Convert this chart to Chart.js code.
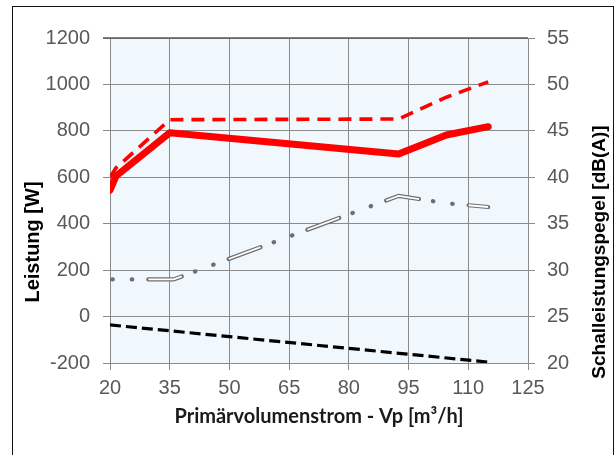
<!DOCTYPE html>
<html><head><meta charset="utf-8">
<script src="https://cdn.jsdelivr.net/npm/chart.js@4.4.1/dist/chart.umd.min.js"></script>
<style>
html,body{margin:0;padding:0;background:#fff;}
#wrap{position:relative;width:615px;height:455px;overflow:hidden;}
#frame{position:absolute;left:12px;top:6px;width:602px;height:470px;border:1.5px solid #111;box-sizing:border-box;pointer-events:none;}
canvas{position:absolute;left:0;top:0;}
</style></head>
<body><div id="wrap"><canvas id="c" width="615" height="455"></canvas><div id="frame"></div></div>
<script>
const xTicks = [20, 35, 50, 65, 80, 95, 110, 125];
const leftTicks = [-200, 0, 200, 400, 600, 800, 1000, 1200];
const rightTicks = [20, 25, 30, 35, 40, 45, 50, 55];

const powerSolidX = [20, 21.5, 35, 92.5, 104.5, 115];
const powerSolid = [545, 605, 792, 700, 782, 818];
const powerDashedX = [20, 21.5, 35, 92.5, 104.5, 115];
const powerDashed = [600, 640, 848, 851, 945, 1011];
const soundX = [20, 36, 92.5, 104.5, 115];
const sound = [29, 29, 38, 37.2, 36.8];
const sound2X = [20, 115];
const sound2 = [24.1, 20.1];

const xTitle = 'Primärvolumenstrom - Vp [m³/h]';
const yTitle = 'Leistung [W]';
const y2Title = 'Schalleistungspegel [dB(A)]';

const pts = (xs, ys) => xs.map((x, i) => ({x: x, y: ys[i]}));
const GRID = '#8a8a8a';
const TICKC = '#595959';
const tickFont = {family: 'Liberation Sans, Arial, sans-serif', size: 20};
const plain = v => String(v);

const bgPlugin = {
  id: 'bg',
  beforeDraw(chart) {
    const a = chart.chartArea, ctx = chart.ctx;
    ctx.save();
    ctx.fillStyle = '#f0f7fd';
    ctx.fillRect(a.left, a.top, a.right - a.left, a.bottom - a.top);
    ctx.restore();
  },
  beforeDatasetsDraw(chart) {
    const a = chart.chartArea, ctx = chart.ctx;
    ctx.save();
    ctx.strokeStyle = '#5a5a5a';
    ctx.lineWidth = 1.5;
    ctx.beginPath();
    ctx.moveTo(a.left - 7, a.top);
    ctx.lineTo(a.right, a.top);
    ctx.stroke();
    ctx.restore();
  },
  afterDraw(chart) {
    const ctx = chart.ctx;
    ctx.save();
    ctx.fillStyle = '#000';
    ctx.textAlign = 'center';
    ctx.textBaseline = 'middle';
    ctx.font = 'bold 20px "Liberation Sans", Arial, sans-serif';
    ctx.translate(33, 242);
    ctx.rotate(-Math.PI / 2);
    ctx.fillText(yTitle, 0, 0);
    ctx.restore();
    ctx.save();
    ctx.fillStyle = '#000';
    ctx.textAlign = 'center';
    ctx.textBaseline = 'middle';
    ctx.font = 'bold 19px "Liberation Sans", Arial, sans-serif';
    ctx.translate(600, 252);
    ctx.rotate(-Math.PI / 2);
    ctx.fillText(y2Title, 0, 0);
    ctx.restore();
  }
};

new Chart(document.getElementById('c'), {
  type: 'line',
  data: {
    datasets: [
      {label: 'powerSolid', data: pts(powerSolidX, powerSolid), yAxisID: 'y', borderColor: '#ff0000', borderWidth: 7, borderJoinStyle: 'round', borderCapStyle: 'round', pointRadius: 0, fill: false},
      {label: 'powerDashed', data: pts(powerDashedX, powerDashed), yAxisID: 'y', borderColor: '#ff0000', borderWidth: 3.6, borderDash: [13, 8], pointRadius: 0, fill: false},
      {label: 'soundInner', data: pts(soundX, sound), yAxisID: 'y2', borderColor: '#ffffff', borderWidth: 1.8, borderDash: [34, 50], borderDashOffset: 45.7, borderCapStyle: 'butt', pointRadius: 0, fill: false},
      {label: 'soundOuter', data: pts(soundX, sound), yAxisID: 'y2', borderColor: '#6e6e6e', borderWidth: 4.2, borderDash: [34, 14, 0.5, 19, 0.5, 16], borderDashOffset: 45.7, borderCapStyle: 'round', pointRadius: 0, fill: false},
      {label: 'sound2', data: pts(sound2X, sound2), yAxisID: 'y2', borderColor: '#000', borderWidth: 3.2, borderDash: [11, 5], pointRadius: 0, fill: false}
    ]
  },
  options: {
    responsive: false,
    animation: false,
    devicePixelRatio: 1,
    layout: {padding: {top: 38, left: 0, right: 0, bottom: 0}},
    plugins: {legend: {display: false}, tooltip: {enabled: false}},
    elements: {line: {tension: 0}},
    scales: {
      x: {
        type: 'linear', min: 20, max: 125,
        afterBuildTicks(s) { s.ticks = xTicks.map(v => ({value: v})); },
        afterFit(s) { s.height = 92; },
        ticks: {font: tickFont, color: TICKC, padding: 6, maxRotation: 0, autoSkip: false, callback: plain},
        grid: {color: GRID, lineWidth: 1, tickLength: 7},
        border: {color: GRID, width: 1},
        title: {display: true, text: xTitle, color: '#1a1a1a', font: {family: 'Lato, "Open Sans", sans-serif', size: 20, weight: 'bold'}, padding: {top: 0, bottom: 26}}
      },
      y: {
        position: 'left', min: -200, max: 1200,
        afterBuildTicks(s) { s.ticks = leftTicks.map(v => ({value: v})); },
        afterFit(s) { s.width = 110; },
        ticks: {font: tickFont, color: TICKC, padding: 13, callback: plain},
        grid: {color: GRID, lineWidth: 1, tickLength: 7},
        border: {color: GRID, width: 1}
      },
      y2: {
        position: 'right', min: 20, max: 55,
        afterBuildTicks(s) { s.ticks = rightTicks.map(v => ({value: v})); },
        afterFit(s) { s.width = 87; },
        ticks: {font: tickFont, color: TICKC, padding: 12, callback: plain},
        grid: {drawOnChartArea: false, color: GRID, lineWidth: 1, tickLength: 7},
        border: {color: GRID, width: 1}
      }
    }
  },
  plugins: [bgPlugin]
});
</script>
</body></html>
